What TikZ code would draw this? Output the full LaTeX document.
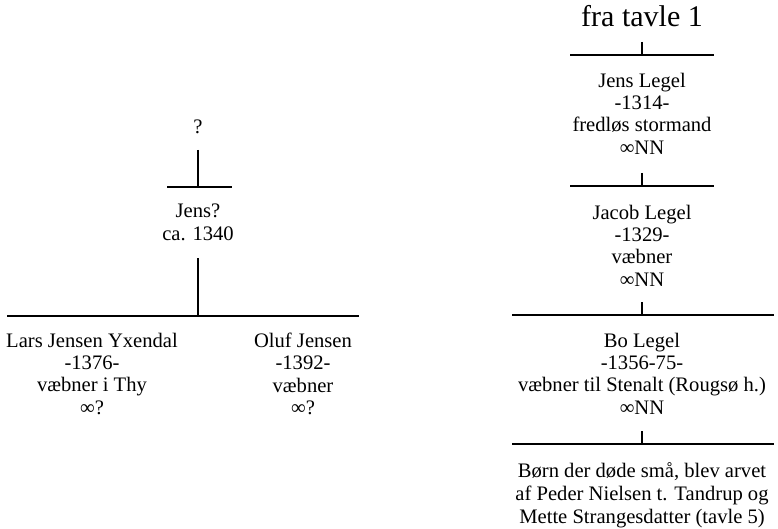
\documentclass[tikz,border=0pt]{standalone}
\usepackage{fontspec}
\setmainfont{Liberation Serif}
\begin{document}
\begin{tikzpicture}[x=1pt,y=-1pt,
  person/.style={align=center,font=\fontsize{20.6}{22.2}\selectfont,inner sep=0pt,anchor=north},
  bar/.style={line width=2.6pt},
  tick/.style={line width=2.2pt}]
\useasboundingbox (0,0) rectangle (778,529);
% left family
\node[person] (q) at (198,120) {?};
\coordinate (qb) at (198,150);
\coordinate (b1l) at (167,187);
\coordinate (b1r) at (232,187);
\coordinate (b1m) at (198,187);
\node[person] (jens) at (198,204) {Jens?\\ca. 1340};
\coordinate (jb) at (198,258);
\coordinate (b2l) at (7,316);
\coordinate (b2r) at (359,316);
\coordinate (b2m) at (198,316);
\node[person] (lars) at (92,333) {Lars Jensen Yxendal\\-1376-\\væbner i Thy\\∞?};
\node[person] (oluf) at (303,333) {Oluf Jensen\\-1392-\\væbner\\∞?};
\draw[tick] (qb) -- (b1m);
\draw[bar] (b1l) -- (b1r);
\draw[tick] (jb) -- (b2m);
\draw[bar] (b2l) -- (b2r);
% right family
\node[person,font=\fontsize{30}{34}\selectfont] (fra) at (642,5) {fra tavle 1};
\coordinate (r1l) at (570,55);
\coordinate (r1r) at (714,55);
\coordinate (r1m) at (642,55);
\coordinate (r1t) at (642,42);
\node[person] (jl) at (642,73) {Jens Legel\\-1314-\\fredløs stormand\\∞NN};
\coordinate (r2l) at (570,186);
\coordinate (r2r) at (714,186);
\coordinate (r2m) at (642,186);
\coordinate (r2t) at (642,173);
\node[person] (jac) at (642,205) {Jacob Legel\\-1329-\\væbner\\∞NN};
\coordinate (r3l) at (512,315);
\coordinate (r3r) at (774,315);
\coordinate (r3m) at (642,315);
\coordinate (r3t) at (642,302);
\node[person] (bo) at (642,333) {Bo Legel\\-1356-75-\\væbner til Stenalt (Rougsø h.)\\∞NN};
\coordinate (r4l) at (512,444);
\coordinate (r4r) at (774,444);
\coordinate (r4m) at (642,444);
\coordinate (r4t) at (642,431);
\node[person,font=\fontsize{20.6}{23}\selectfont] (born) at (642,462) {Børn der døde små, blev arvet\\af Peder Nielsen t. Tandrup og\\Mette Strangesdatter (tavle 5)};
\draw[bar] (r1l) -- (r1r);
\draw[tick] (r1t) -- (r1m);
\draw[bar] (r2l) -- (r2r);
\draw[tick] (r2t) -- (r2m);
\draw[bar] (r3l) -- (r3r);
\draw[tick] (r3t) -- (r3m);
\draw[bar] (r4l) -- (r4r);
\draw[tick] (r4t) -- (r4m);
\end{tikzpicture}
\end{document}
